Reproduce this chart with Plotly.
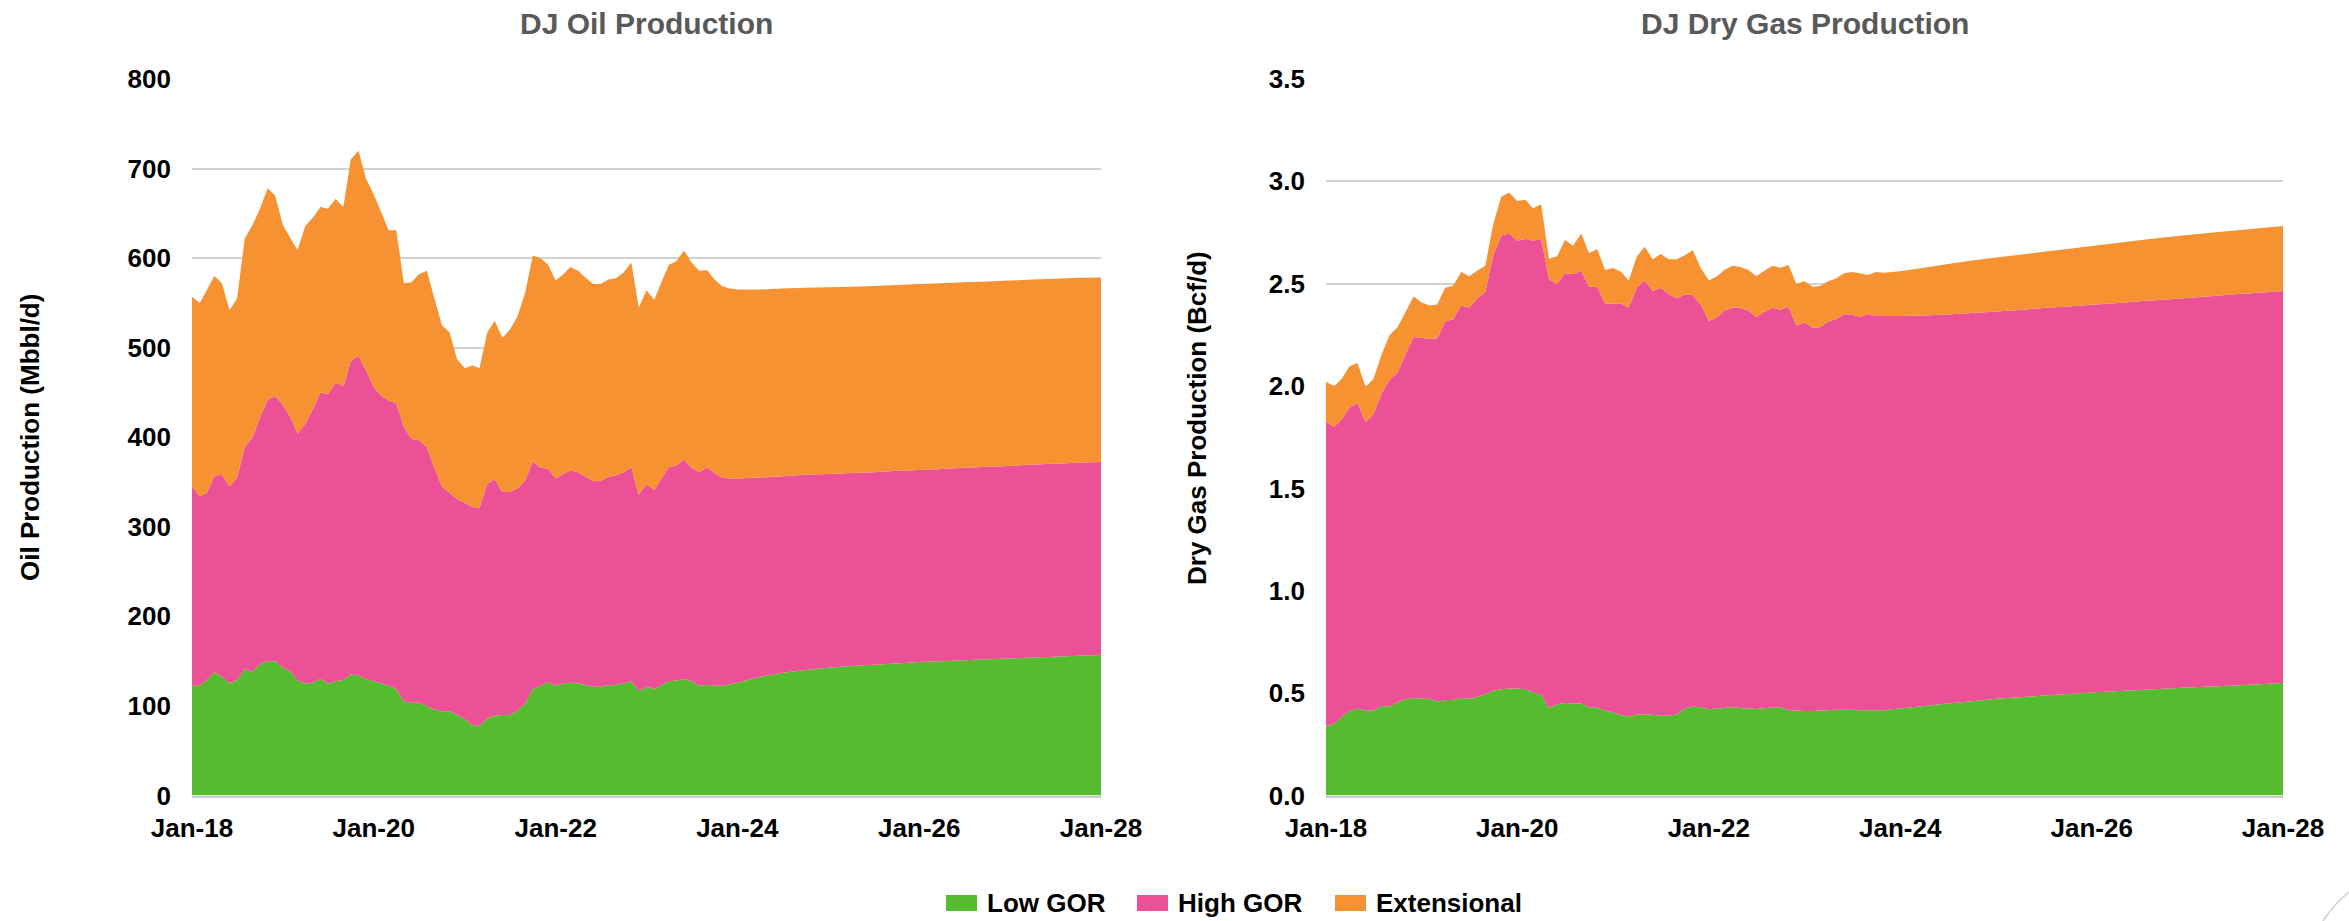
import pandas as pd
import plotly.graph_objects as go

# ---- time axis: monthly history, quarterly forecast ----
hist_dates = pd.date_range("2018-01-01", periods=72, freq="MS")
fcst_dates = pd.date_range("2024-01-01", "2028-01-01", freq="3MS")
dates = list(hist_dates) + list(fcst_dates)

# ---- DJ oil production by play type (Mbbl/d) ----
oil_low_gor = [
    122.5, 122.5, 129, 137.5, 132.5, 125, 129, 141, 138.5, 146.5, 150, 150,
    142.5, 138.5, 128.5, 125, 126, 130, 125, 127.5, 129, 135, 134, 130,
    127.5, 125, 122.5, 119, 105, 103.5, 103.5, 100, 96, 94, 94, 90,
    85, 78.5, 77.5, 86, 89, 90, 90, 95, 102.5, 119, 122.5, 126.5,
    122.5, 125, 126, 125, 123.5, 121.5, 121.5, 123, 123.5, 125, 127.5, 116.5,
    121.5, 119, 123.5, 127.5, 128.5, 130, 127.5, 122.5, 123.5, 122.5, 122.5, 124,
    # forecast
    126, 132.5, 137, 140, 142.5, 144.5, 146, 147.5, 149, 150, 151, 152,
    153, 154, 155, 156, 157,
]
oil_high_gor = [
    222.5, 211.5, 208.5, 219.5, 225.5, 220, 226, 248, 261.5, 275.5, 292, 296,
    293.5, 283.5, 275.5, 290, 305, 320, 323, 333.5, 328, 350, 357, 345,
    328.5, 321, 318.5, 319, 307, 294.5, 293.5, 289, 270, 251, 244, 241,
    242, 243.5, 243.5, 262, 264, 249, 249, 248, 249.5, 254, 243.5, 238.5,
    231.5, 234, 237, 236, 232.5, 229.5, 230, 233, 234, 236, 239, 219.5,
    226, 222, 230, 239, 240, 245, 238.5, 238.5, 243, 237.5, 232.5, 230,
    # forecast
    228, 222.5, 219.5, 218, 216.5, 215.5, 215, 215, 214.5, 214.5, 215, 215,
    215, 215.5, 215.5, 215.5, 215.5,
]
oil_extensional = [
    212, 216, 226.5, 223, 214, 197, 200, 233, 237, 233, 236, 224,
    201, 200, 205, 221, 214, 207, 207, 205, 200, 225, 229, 214,
    215, 205, 190, 193, 160, 175, 185, 197, 189, 180, 179, 156,
    150, 158, 156, 169, 177, 172, 181, 192, 210, 230, 234, 228,
    221, 223, 227, 225, 222, 220, 219.5, 220, 220, 223, 228.5, 209,
    216.5, 212.5, 219, 226, 228, 233.5, 229, 225, 220, 216.5, 213.5, 212,
    # forecast
    211, 210, 209.5, 209, 208.5, 208, 208, 207.5, 207.5, 207.5, 207, 207,
    207, 206.5, 206.5, 206.5, 206,
]

# ---- DJ dry gas production by play type (Bcf/d) ----
gas_low_gor = [
    0.339, 0.349, 0.384, 0.411, 0.425, 0.415, 0.415, 0.437, 0.435, 0.456, 0.470, 0.476,
    0.472, 0.472, 0.458, 0.466, 0.466, 0.476, 0.472, 0.482, 0.493, 0.513, 0.519, 0.523,
    0.523, 0.519, 0.503, 0.493, 0.427, 0.446, 0.452, 0.450, 0.450, 0.431, 0.429, 0.415,
    0.405, 0.392, 0.386, 0.396, 0.396, 0.394, 0.390, 0.390, 0.396, 0.425, 0.435, 0.431,
    0.421, 0.425, 0.427, 0.431, 0.427, 0.425, 0.423, 0.427, 0.429, 0.431, 0.417, 0.415,
    0.413, 0.413, 0.415, 0.417, 0.419, 0.419, 0.419, 0.417, 0.417, 0.417, 0.417, 0.421,
    # forecast
    0.425, 0.437, 0.450, 0.461, 0.472, 0.480, 0.488, 0.496, 0.503, 0.509, 0.515, 0.521,
    0.527, 0.532, 0.537, 0.543, 0.550,
]
gas_high_gor = [
    1.486, 1.452, 1.453, 1.486, 1.492, 1.410, 1.447, 1.527, 1.596, 1.610, 1.688, 1.764,
    1.764, 1.758, 1.776, 1.850, 1.860, 1.917, 1.911, 1.946, 1.968, 2.125, 2.216, 2.222,
    2.187, 2.201, 2.207, 2.227, 2.093, 2.053, 2.099, 2.097, 2.113, 2.054, 2.056, 1.988,
    1.998, 2.011, 1.997, 2.085, 2.120, 2.071, 2.090, 2.058, 2.032, 2.023, 2.009, 1.966,
    1.897, 1.911, 1.942, 1.952, 1.956, 1.944, 1.913, 1.936, 1.954, 1.942, 1.970, 1.880,
    1.898, 1.872, 1.872, 1.899, 1.907, 1.933, 1.929, 1.921, 1.935, 1.925, 1.925, 1.921,
    # forecast
    1.917, 1.908, 1.900, 1.896, 1.892, 1.892, 1.893, 1.893, 1.894, 1.896, 1.899, 1.901,
    1.903, 1.907, 1.911, 1.913, 1.915,
]
gas_extensional = [
    0.196, 0.198, 0.198, 0.200, 0.196, 0.170, 0.173, 0.190, 0.219, 0.221, 0.205, 0.198,
    0.172, 0.164, 0.164, 0.164, 0.164, 0.164, 0.154, 0.135, 0.127, 0.154, 0.190, 0.200,
    0.194, 0.190, 0.157, 0.168, 0.102, 0.135, 0.163, 0.139, 0.182, 0.164, 0.185, 0.164,
    0.174, 0.154, 0.133, 0.152, 0.165, 0.154, 0.165, 0.171, 0.191, 0.191, 0.219, 0.180,
    0.198, 0.201, 0.198, 0.205, 0.199, 0.198, 0.201, 0.200, 0.205, 0.205, 0.204, 0.205,
    0.201, 0.200, 0.202, 0.196, 0.200, 0.199, 0.209, 0.213, 0.190, 0.215, 0.211, 0.215,
    # forecast
    0.219, 0.233, 0.246, 0.256, 0.264, 0.270, 0.275, 0.281, 0.287, 0.293, 0.298, 0.304,
    0.308, 0.310, 0.312, 0.315, 0.317,
]

series_names = ["Low GOR", "High GOR", "Extensional"]
series_colors = ["#55BB2F", "#EC5097", "#F69232"]

W, H = 2349, 921
FONT = "Liberation Sans, Arial, sans-serif"

fig = go.Figure()

for stack, axes, values in [
    ("oil", ("x", "y"), [oil_low_gor, oil_high_gor, oil_extensional]),
    ("gas", ("x2", "y2"), [gas_low_gor, gas_high_gor, gas_extensional]),
]:
    for name, color, vals in zip(series_names, series_colors, values):
        fig.add_trace(go.Scatter(
            x=dates, y=vals, name=name, stackgroup=stack, mode="none",
            fillcolor=color, showlegend=False,
            xaxis=axes[0], yaxis=axes[1],
        ))

tick_font = dict(family=FONT, size=26, color="#000000", weight="bold")
y_dom = [(H - 795.5) / H, (H - 79) / H]

x_common = dict(
    type="date", range=["2018-01-01", "2028-01-01"], tick0="2018-01-01",
    dtick="M24", tickformat="%b-%y", showgrid=False, showline=True,
    linecolor="#c9c9c9", linewidth=2, ticks="", tickfont=tick_font,
    ticklabelstandoff=8, automargin=False, fixedrange=True,
)
y_common = dict(
    showgrid=True, gridcolor="#d2d2d2", gridwidth=2, zeroline=False,
    showline=False, ticks="", tickfont=tick_font, ticklabelstandoff=20,
    domain=y_dom, automargin=False, fixedrange=True,
)

fig.update_layout(
    width=W, height=H,
    margin=dict(l=0, r=0, t=0, b=0, autoexpand=False),
    paper_bgcolor="white", plot_bgcolor="white",
    showlegend=False,
    xaxis=dict(domain=[192 / W, 1101 / W], anchor="y", **x_common),
    yaxis=dict(anchor="x", range=[0, 800], dtick=100, **y_common),
    xaxis2=dict(domain=[1326 / W, 2283 / W], anchor="y2", **x_common),
    yaxis2=dict(anchor="x2", range=[0, 3.5], dtick=0.5, tickformat=".1f", **y_common),
)

# chart titles
title_font = dict(family=FONT, size=30, color="#595959", weight="bold")
for text, xc in [("DJ Oil Production", 646.5), ("DJ Dry Gas Production", 1804.5)]:
    fig.add_annotation(text=text, x=xc / W, y=(H - 23) / H, xref="paper", yref="paper",
                       xanchor="center", yanchor="middle", showarrow=False, font=title_font)

# axis titles
axis_title_font = dict(family=FONT, size=26, color="#000000", weight="bold")
for text, xc, yc in [("Oil Production (Mbbl/d)", 30, 438),
                     ("Dry Gas Production (Bcf/d)", 1197, 418)]:
    fig.add_annotation(text=text, x=xc / W, y=(H - yc) / H, xref="paper", yref="paper",
                       xanchor="center", yanchor="middle", textangle=-90,
                       showarrow=False, font=axis_title_font)

# shared legend along the bottom
legend_font = dict(family=FONT, size=26, color="#000000", weight="bold")
legend_swatches = [946, 1137, 1335]
for name, color, sx in zip(series_names, series_colors, legend_swatches):
    fig.add_shape(type="rect", xref="paper", yref="paper",
                  x0=sx / W, x1=(sx + 31) / W, y0=(H - 911) / H, y1=(H - 895) / H,
                  fillcolor=color, line=dict(width=0))
    fig.add_annotation(text=name, x=(sx + 39) / W, y=(H - 903) / H, xref="paper", yref="paper",
                       xanchor="left", yanchor="middle", showarrow=False, font=legend_font)

# page-corner curl mark
fig.add_shape(type="path", xref="paper", yref="paper",
              path=f"M {2323 / W},0 Q {2333 / W},{16 / H} 1,{29 / H}",
              line=dict(color="#d0d0d0", width=1.5))

fig.write_html("out.html")
